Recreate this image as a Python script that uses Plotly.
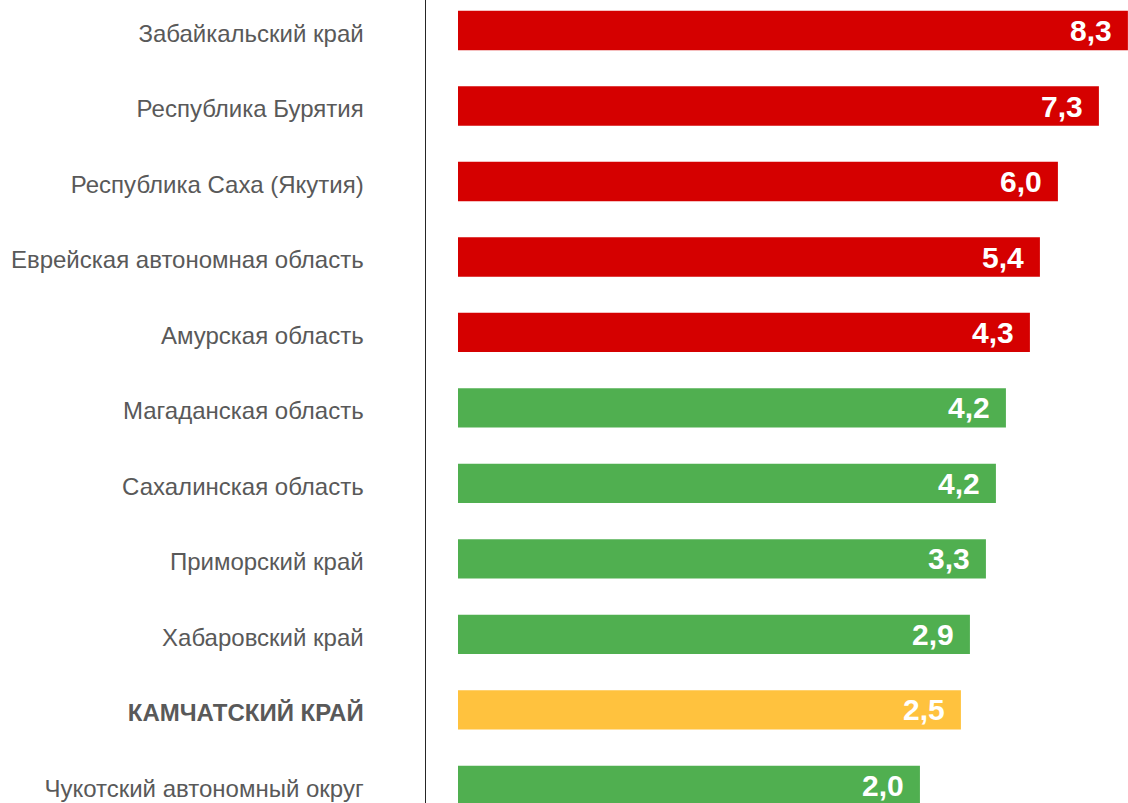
import plotly.graph_objects as go

regions = [
    "Забайкальский край",
    "Республика Бурятия",
    "Республика Саха (Якутия)",
    "Еврейская автономная область",
    "Амурская область",
    "Магаданская область",
    "Сахалинская область",
    "Приморский край",
    "Хабаровский край",
    "<b>КАМЧАТСКИЙ КРАЙ</b>",
    "Чукотский автономный округ",
]
values = [8.3, 7.3, 6.0, 5.4, 4.3, 4.2, 4.2, 3.3, 2.9, 2.5, 2.0]
# bar lengths as drawn in the reference (the drawn bars are not proportional to the labels)
bar_lengths = [6.70, 6.41, 6.00, 5.82, 5.72, 5.48, 5.38, 5.28, 5.12, 5.03, 4.62]
groups = ["red", "red", "red", "red", "red", "green", "green", "green", "green", "yellow", "green"]

palette = {"red": "#D50000", "green": "#50AF50", "yellow": "#FFC23E"}
colors = [palette[g] for g in groups]
labels = [f"{v:.1f}".replace(".", ",") for v in values]

fig = go.Figure()
fig.add_trace(go.Bar(
    y=regions,
    x=bar_lengths,
    orientation="h",
    marker=dict(color=colors, line=dict(width=0)),
    hoverinfo="skip",
))

for r, L, t in zip(regions, bar_lengths, labels):
    fig.add_annotation(
        x=L, y=r, text=f"<b>{t}</b>", showarrow=False,
        xanchor="right", yanchor="middle", xshift=-14, yshift=0,
        font=dict(family="Liberation Sans, Arial, sans-serif", size=30, color="white"),
    )

fig.update_layout(
    width=1128, height=803,
    margin=dict(l=426, r=0, t=0, b=0),
    paper_bgcolor="white", plot_bgcolor="white",
    bargap=0.48,
    showlegend=False,
    font=dict(family="Liberation Sans, Arial, sans-serif"),
)
fig.update_xaxes(
    range=[-0.32, 6.701], showgrid=False, zeroline=False,
    showticklabels=False, showline=False, ticks="",
)
fig.update_yaxes(
    type="category", categoryorder="array", categoryarray=regions,
    range=[10.232, -0.404],
    showgrid=False, zeroline=False,
    showline=True, linecolor="#262626", linewidth=1.5,
    ticks="", ticklabelstandoff=56, ticklabelshift=-3,
    tickfont=dict(family="Liberation Sans, Arial, sans-serif", size=24, color="#595959"),
)

fig.write_html(
    "out.html",
    config={"displayModeBar": False, "staticPlot": True},
    post_script="document.body.style.margin='0';document.body.style.overflow='hidden';",
)
